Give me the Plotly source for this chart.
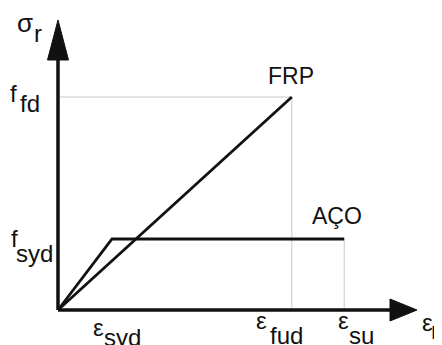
import plotly.graph_objects as go

# ---- data (schematic units) ----
eps_syd = 1.0
eps_fud = 4.33
eps_su = 5.3
f_syd = 1.0
f_fd = 3.0

frp_strain = [0.0, eps_fud]
frp_stress = [0.0, f_fd]
steel_strain = [0.0, eps_syd, eps_su]
steel_stress = [0.0, f_syd, f_syd]

series_names = ["FRP", "AÇO"]

# ---- geometry (page body has an 8px margin) ----
W, H = 434, 337
X0PX, Y0PX = 50, 302          # origin pixel inside figure
SX, SY = 54.0, 71.0           # px per unit
x_range = [-X0PX / SX, (W - X0PX) / SX]
y_range = [-(H - Y0PX) / SY, Y0PX / SY]

x_axis_end = (409 - X0PX) / SX
y_axis_end = (Y0PX - 12) / SY

FONT = "Liberation Sans, Arial, sans-serif"
BLACK = "#111111"
GRAY = "#c8c8c8"

fig = go.Figure()

# guide lines
fig.add_trace(go.Scatter(x=[0, eps_fud, eps_fud], y=[f_fd, f_fd, 0], mode="lines",
                         line=dict(color=GRAY, width=1), hoverinfo="skip", showlegend=False))
fig.add_trace(go.Scatter(x=[eps_su, eps_su], y=[f_syd, 0], mode="lines",
                         line=dict(color=GRAY, width=1), hoverinfo="skip", showlegend=False))

# series
fig.add_trace(go.Scatter(x=frp_strain, y=frp_stress, mode="lines", name=series_names[0],
                         line=dict(color=BLACK, width=2.8), showlegend=False))
fig.add_trace(go.Scatter(x=steel_strain, y=steel_stress, mode="lines", name=series_names[1],
                         line=dict(color=BLACK, width=2.8), showlegend=False))

# axes lines
shapes = [
    dict(type="line", x0=0, y0=0, x1=x_axis_end - 20 / SX, y1=0, xref="x", yref="y",
         line=dict(color=BLACK, width=3.5)),
    dict(type="line", x0=0, y0=0, x1=0, y1=y_axis_end - 30 / SY, xref="x", yref="y",
         line=dict(color=BLACK, width=3.5)),
]
# arrow heads
xb = x_axis_end - 27 / SX
hh = 11 / SY
shapes.append(dict(type="path", xref="x", yref="y",
                   path=f"M {xb} {hh} L {x_axis_end} 0 L {xb} {-hh} Z",
                   fillcolor=BLACK, line=dict(color=BLACK, width=1)))
yb = y_axis_end - 40 / SY
hw = 10.5 / SX
shapes.append(dict(type="path", xref="x", yref="y",
                   path=f"M {-hw} {yb} L 0 {y_axis_end} L {hw} {yb} Z",
                   fillcolor=BLACK, line=dict(color=BLACK, width=1)))

ann = []
def lab(text, x, y, xs=0, ys=0, size=24, xanchor="center"):
    ann.append(dict(text=text, x=x, y=y, xref="x", yref="y",
                    xshift=xs, yshift=ys, showarrow=False,
                    xanchor=xanchor, yanchor="middle",
                    font=dict(family=FONT, size=size, color=BLACK)))

# series labels
lab(series_names[0], eps_fud, f_fd, xs=-1, ys=21, size=23)
lab(series_names[1], eps_su, f_syd, xs=-7, ys=23, size=23)

# y axis labels
lab("f", 0, f_fd, xs=-45, ys=4)
lab("fd", 0, f_fd, xs=-28, ys=-6)
lab("f", 0, f_syd, xs=-44, ys=1)
lab("syd", 0, f_syd, xs=-24, ys=-14)
lab("σ", 0, y_axis_end, xs=-33, ys=-3, size=26)
lab("r", 0, y_axis_end, xs=-20, ys=-13)

# x axis labels
lab("ε", eps_syd, 0, xs=-14, ys=-17)
lab("syd", eps_syd, 0, xs=10, ys=-27)
lab("ε", eps_fud, 0, xs=-30, ys=-10)
lab("fud", eps_fud, 0, xs=-5, ys=-25)
lab("ε", eps_su, 0, xs=-1, ys=-10)
lab("su", eps_su, 0, xs=17, ys=-25)
lab("ε", x_axis_end, 0, xs=10, ys=-12)
lab("r", x_axis_end, 0, xs=12, ys=-20, xanchor="left")

fig.update_layout(
    width=W, height=H,
    margin=dict(l=0, r=0, t=0, b=0),
    paper_bgcolor="white", plot_bgcolor="white",
    xaxis=dict(range=x_range, visible=False, fixedrange=True),
    yaxis=dict(range=y_range, visible=False, fixedrange=True),
    shapes=shapes, annotations=ann, showlegend=False,
)

fig.write_html("out.html")
